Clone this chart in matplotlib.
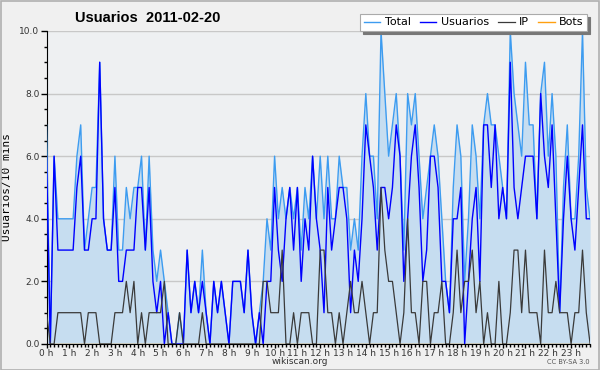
import numpy as np
import matplotlib
matplotlib.use('Agg')
import matplotlib.pyplot as plt
from matplotlib.ticker import MultipleLocator, FixedLocator

# 10-minute slots over the day (144 values)
total = [7, 0, 6, 4, 4, 4, 4, 4, 6, 7, 3, 4, 5, 5, 9, 4, 3, 3, 6, 3, 3, 5, 4, 5,
         5, 6, 3, 6, 3, 2, 3, 2, 1, 0, 0, 1, 0, 3, 1, 2, 1, 3, 1, 0, 2, 1, 2, 1,
         0, 2, 2, 2, 1, 3, 1, 0, 1, 2, 4, 3, 6, 4, 5, 4, 5, 4, 5, 3, 5, 4, 6, 4,
         6, 4, 6, 4, 4, 6, 5, 5, 3, 4, 3, 6, 8, 6, 6, 4, 10, 8, 6, 7, 8, 6, 3, 8,
         7, 8, 6, 4, 5, 6, 7, 6, 4, 2, 1, 5, 7, 6, 2, 4, 7, 6, 4, 7, 8, 7, 7, 6,
         5, 4, 10, 8, 7, 6, 9, 7, 7, 4, 8, 9, 6, 8, 6, 1, 5, 7, 4, 4, 6, 10, 5, 4]
usuarios = [6, 0, 6, 3, 3, 3, 3, 3, 5, 6, 3, 3, 4, 4, 9, 4, 3, 3, 5, 2, 2, 3, 3, 3,
            5, 5, 3, 5, 2, 1, 2, 0, 1, 0, 0, 0, 0, 3, 1, 2, 1, 2, 1, 0, 2, 1, 2, 1,
            0, 2, 2, 2, 1, 3, 1, 0, 1, 0, 2, 2, 5, 3, 2, 4, 5, 3, 5, 2, 4, 3, 6, 4,
            3, 1, 5, 3, 4, 5, 5, 4, 1, 3, 2, 4, 7, 6, 5, 3, 5, 5, 4, 5, 7, 6, 2, 4,
            6, 7, 5, 2, 3, 6, 6, 5, 2, 2, 1, 4, 4, 5, 0, 2, 4, 5, 2, 7, 7, 5, 7, 4,
            5, 4, 9, 5, 4, 5, 6, 6, 6, 4, 8, 6, 5, 7, 4, 1, 4, 6, 4, 3, 5, 7, 4, 4]
ip = [1, 0, 0, 1, 1, 1, 1, 1, 1, 1, 0, 1, 1, 1, 0, 0, 0, 0, 1, 1, 1, 2, 1, 2,
      0, 1, 0, 1, 1, 1, 1, 2, 0, 0, 0, 1, 0, 0, 0, 0, 0, 1, 0, 0, 0, 0, 0, 0,
      0, 0, 0, 0, 0, 0, 0, 0, 0, 2, 2, 1, 1, 1, 3, 0, 0, 1, 0, 1, 1, 1, 0, 0,
      3, 3, 1, 1, 0, 1, 0, 1, 2, 1, 1, 2, 1, 0, 1, 1, 5, 3, 2, 2, 1, 0, 1, 4,
      1, 1, 0, 2, 2, 0, 1, 1, 2, 0, 0, 1, 3, 1, 2, 2, 3, 1, 2, 0, 1, 0, 0, 2,
      0, 0, 1, 3, 3, 1, 3, 1, 1, 1, 0, 3, 1, 1, 2, 1, 1, 1, 0, 1, 1, 3, 1, 0]
bots = [0] * 144

hour_labels = ['%d h' % h for h in range(24)]
title = 'Usuarios  2011-02-20'

x = np.arange(len(total))

fig = plt.figure(figsize=(6, 3.7), dpi=100, facecolor='#f0f0f0')
fig.patches.append(plt.Rectangle((0.001, 0.001), 0.997, 0.996, transform=fig.transFigure,
                                 fill=False, edgecolor='#b0b0b0', linewidth=1.2))
ax = fig.add_axes([0.0775, 0.0703, 0.906, 0.846])
ax.set_facecolor('#eef0f2')

ax.fill_between(x, total, 0, color='#c6ddf0', linewidth=0, zorder=1)
l_tot, = ax.plot(x, total, color='#3d9cf0', lw=1.0, zorder=3)
l_usr, = ax.plot(x, usuarios, color='#0000ff', lw=1.0, zorder=4)
l_ip, = ax.plot(x, ip, color='#3a3a3a', lw=0.9, zorder=5)
l_bot, = ax.plot(x, bots, color='#ffa010', lw=1.0, zorder=2)

ax.set_xlim(0, 143)
ax.set_ylim(0, 10)
ax.xaxis.set_major_locator(FixedLocator(np.arange(0, 144, 6)))
ax.xaxis.set_minor_locator(MultipleLocator(1))
ax.set_xticklabels(hour_labels)
ax.set_yticks(np.arange(0, 11, 2))
ax.yaxis.set_minor_locator(MultipleLocator(0.5))
ax.set_yticklabels(['%.1f' % v for v in np.arange(0, 11, 2)])

ax.grid(True, axis='y', which='major', color='#c8c8c8', lw=1.0, zorder=0)
ax.set_axisbelow(True)
for s in ['top', 'right']:
    ax.spines[s].set_visible(False)
ax.spines['left'].set_color('black')
ax.spines['bottom'].set_color('black')
ax.tick_params(axis='x', which='major', direction='out', length=3, width=1,
               labelsize=6.5, labelcolor='#333333', pad=0.5)
ax.tick_params(axis='y', which='major', direction='out', length=4, width=1,
               labelsize=6.5, labelcolor='#333333', pad=1)
ax.tick_params(axis='both', which='minor', direction='out', length=2.5, width=1)

ax.set_ylabel('Usuarios/10 mins', family='DejaVu Sans Mono', fontsize=8, labelpad=5)

fig.text(0.125, 0.952, title, family='Liberation Sans', fontsize=10.5, fontweight='bold',
         ha='left', va='center')
fig.text(0.5, 0.022, 'wikiscan.org', fontsize=6.5, ha='center', va='center', color='#333333')
fig.text(0.983, 0.022, 'CC BY-SA 3.0', fontsize=4.8, ha='right', va='center', color='#555555')

leg = fig.legend([l_tot, l_usr, l_ip, l_bot], ['Total', 'Usuarios', 'IP', 'Bots'],
                 loc='upper right', bbox_to_anchor=(0.978, 0.962), ncol=4, fontsize=8,
                 frameon=True, fancybox=False, shadow={'color': '#777777', 'alpha': 1},
                 handlelength=1.5, handletextpad=0.4, columnspacing=0.8,
                 borderpad=0.3, borderaxespad=0.0)
leg.get_frame().set_edgecolor('#aaaaaa')
leg.get_frame().set_linewidth(0.8)

fig.savefig('out.png', dpi=100, facecolor=fig.get_facecolor())
